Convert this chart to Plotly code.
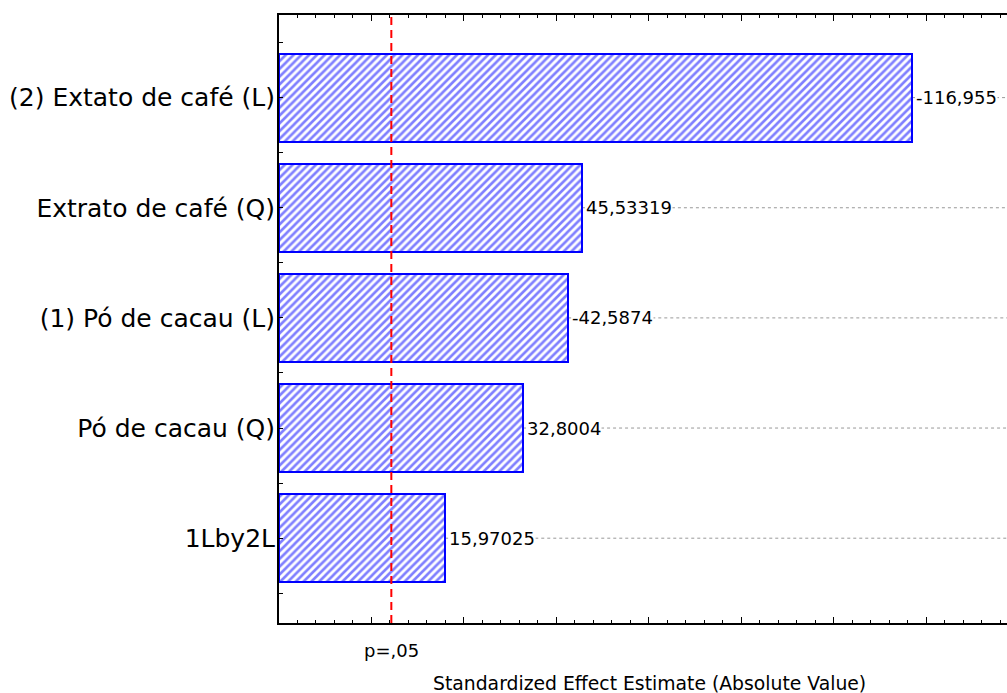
import plotly.graph_objects as go

# Pareto chart of standardized effects
effects = [
    "(2) Extato de café (L)",
    "Extrato de café (Q)",
    "(1) Pó de cacau (L)",
    "Pó de cacau (Q)",
    "1Lby2L",
]
estimates = [-116.955, 45.53319, -42.5874, 32.8004, 15.97025]
p05_value = 4.303          # critical t value for p = .05
p05_label = "p=,05"
x_title = "Standardized Effect Estimate (Absolute Value)"

X_MIN, X_MAX = -20, 137.5
positions = list(range(len(effects)))
magnitudes = [abs(v) for v in estimates]


def fmt(v):
    return f"{v:.7g}".replace(".", ",")


fig = go.Figure()
fig.add_trace(go.Bar(
    y=positions,
    x=[m - X_MIN for m in magnitudes],
    base=X_MIN,
    orientation="h",
    width=0.8,
    marker=dict(
        color="white",
        line=dict(color="#0000FF", width=2),
        pattern=dict(shape="/", fgcolor="#0000FF", bgcolor="white",
                     size=5.5, solidity=0.48),
    ),
    showlegend=False,
))

small_font = dict(family="DejaVu Sans", size=18, color="black")

shapes = []
annotations = []
for pos, mag, est in zip(positions, magnitudes, estimates):
    # dotted leader from bar end to right edge
    shapes.append(dict(type="line", xref="x", yref="y",
                       x0=mag, x1=X_MAX, y0=pos, y1=pos,
                       line=dict(color="#999999", width=1, dash="dot"),
                       layer="below"))
    annotations.append(dict(x=mag, y=pos, xref="x", yref="y",
                            text=fmt(est), showarrow=False,
                            xanchor="left", yanchor="middle", xshift=3,
                            bgcolor="white", borderpad=0,
                            font=small_font))

# significance threshold
shapes.append(dict(type="line", xref="x", yref="paper",
                   x0=p05_value, x1=p05_value, y0=0, y1=1,
                   line=dict(color="#FF0000", width=2, dash="8px,5px")))

L, R, T, B = 279, 0, 15, 70
W, H = 1007, 693
pw, ph = W - L - R, H - T - B

annotations.append(dict(x=p05_value, y=0, xref="x", yref="paper",
                        text=p05_label, showarrow=False,
                        xanchor="center", yanchor="top", yshift=-15,
                        font=small_font))
annotations.append(dict(x=(649 - L) / pw, y=-(683 - (H - B)) / ph,
                        xref="paper", yref="paper",
                        text=x_title, showarrow=False,
                        xanchor="center", yanchor="middle",
                        font=dict(family="DejaVu Sans", size=18.8, color="black")))

fig.update_layout(
    width=W, height=H,
    margin=dict(l=L, r=R, t=T, b=B),
    plot_bgcolor="white",
    paper_bgcolor="white",
    shapes=shapes,
    annotations=annotations,
    bargap=0,
    xaxis=dict(
        range=[X_MIN, X_MAX],
        showgrid=False, zeroline=False,
        showline=True, linecolor="black", linewidth=2,
        mirror="ticks",
        ticks="inside", ticklen=6, tickwidth=1, tickcolor="black",
        tick0=0, dtick=20,
        minor=dict(ticks="inside", ticklen=3, tickwidth=1, tickcolor="black",
                   tick0=0, dtick=4),
        showticklabels=False,
    ),
    yaxis=dict(
        range=[len(effects) - 0.23, -0.75],
        showgrid=False, zeroline=False,
        showline=True, linecolor="black", linewidth=2,
        ticks="inside", ticklen=4, tickwidth=1, tickcolor="black",
        tickmode="array", tickvals=positions, ticktext=effects,
        ticklabelstandoff=-3,
        minor=dict(ticks="inside", ticklen=4, tickwidth=1, tickcolor="black",
                   tick0=0.5, dtick=1),
        tickfont=dict(family="DejaVu Sans", size=25, color="black"),
    ),
)

fig.write_html("out.html")
